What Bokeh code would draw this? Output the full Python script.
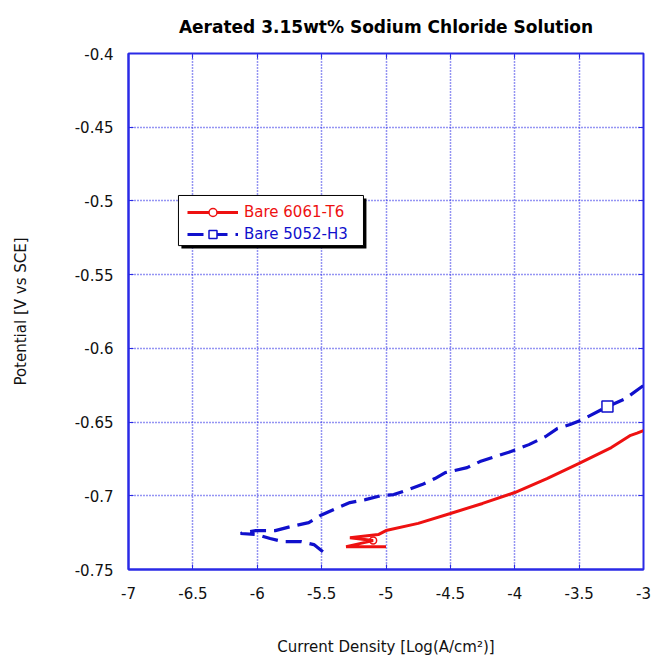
from bokeh.plotting import figure
from bokeh.models import (ColumnDataSource, Legend, LegendItem, BoxAnnotation,
                          FixedTicker, LinearAxis, CustomJSTickFormatter,
                          CDSView, IndexFilter)
from bokeh.embed import file_html
from bokeh.resources import INLINE

# ---------------- data ----------------
title_text = "Aerated 3.15wt% Sodium Chloride Solution"
x_label = "Current Density [Log(A/cm²)]"
y_label = "Potential [V vs SCE]"

x_ticks = [-7, -6.5, -6, -5.5, -5, -4.5, -4, -3.5, -3]
x_tick_labels = ["-7", "-6.5", "-6", "-5.5", "-5", "-4.5", "-4", "-3.5", "-3"]
y_ticks = [-0.75, -0.7, -0.65, -0.6, -0.55, -0.5, -0.45, -0.4]
y_tick_labels = ["-0.75", "-0.7", "-0.65", "-0.6", "-0.55", "-0.5", "-0.45", "-0.4"]

series_names = ["Bare 6061-T6", "Bare 5052-H3"]

al6061_logi = [-5.00, -5.31, -5.10, -5.28, -5.06, -5.00, -4.75, -4.50, -4.25,
               -4.00, -3.75, -3.50, -3.25, -3.10, -3.05, -3.00]
al6061_pot = [-0.7345, -0.7345, -0.7304, -0.7284, -0.7263, -0.7236, -0.7187, -0.7120,
              -0.7052, -0.6978, -0.6883, -0.6780, -0.6673, -0.6590, -0.6575, -0.6558]
al6061_marker_index = [2]

al5052_logi = [-5.49, -5.56, -5.66, -5.80, -5.90, -6.00, -6.13, -6.01, -5.86, -5.74,
               -5.60, -5.51, -5.39, -5.28, -5.16, -5.04, -4.94, -4.85, -4.72, -4.62,
               -4.54, -4.37, -4.27, -4.03, -3.89, -3.76, -3.67, -3.57, -3.49, -3.28,
               -3.14, -3.00]
al5052_pot = [-0.7379, -0.7331, -0.7311, -0.7311, -0.7290, -0.7263, -0.7256, -0.7236,
              -0.7236, -0.7209, -0.7182, -0.7134, -0.7087, -0.7046, -0.7026, -0.6999,
              -0.6992, -0.6965, -0.6924, -0.6883, -0.6843, -0.6809, -0.6768, -0.6700,
              -0.6653, -0.6598, -0.6544, -0.6517, -0.6490, -0.6395, -0.6341, -0.6252]
al5052_marker_index = [29]

# ---------------- styling ----------------
RED = "#ee1111"
BLUE = "#1010cc"
AXIS_BLUE = "#2a2ae6"
FONT = "DejaVu Sans"

p = figure(width=652, height=661, x_range=(-7, -3), y_range=(-0.75, -0.4),
           output_backend="svg", toolbar_location=None,
           min_border_left=128, min_border_right=9, min_border_top=53,
           min_border_bottom=92)

p.title.text = title_text
p.title.align = "center"
p.title.vertical_align = "top"
p.title.text_font = FONT
p.title.text_font_style = "bold"
p.title.text_font_size = "17px"
p.title.text_color = "black"
p.title.standoff = 30

p.outline_line_color = AXIS_BLUE
p.outline_line_width = 2

for ax, ticks, labels in ((p.xaxis[0], x_ticks, x_tick_labels),
                          (p.yaxis[0], y_ticks, y_tick_labels)):
    ax.ticker = FixedTicker(ticks=ticks)
    ax.major_label_overrides = dict(zip(ticks, labels))
    ax.axis_line_color = AXIS_BLUE
    ax.axis_line_width = 2
    ax.major_tick_line_color = AXIS_BLUE
    ax.major_tick_in = 5
    ax.major_tick_out = 0
    ax.minor_tick_line_color = None
    ax.major_label_text_font = FONT
    ax.major_label_text_font_size = "15px"
    ax.major_label_text_color = "#111111"
    ax.axis_label_text_font = FONT
    ax.axis_label_text_font_size = "15px"
    ax.axis_label_text_font_style = "normal"
    ax.axis_label_text_color = "#111111"

p.xaxis[0].axis_label = x_label
p.yaxis[0].axis_label = y_label
p.yaxis[0].major_label_standoff = 15
p.xaxis[0].major_label_standoff = 17
p.yaxis[0].axis_label_standoff = 42
p.xaxis[0].axis_label_standoff = 36

blank = CustomJSTickFormatter(code="return ''")
top_ax = LinearAxis(ticker=FixedTicker(ticks=x_ticks), formatter=blank,
                    axis_line_color=AXIS_BLUE, major_tick_line_color=AXIS_BLUE,
                    major_tick_in=5, major_tick_out=0, minor_tick_line_color=None,
                    major_label_text_font_size="1px")
right_ax = LinearAxis(ticker=FixedTicker(ticks=y_ticks), formatter=blank,
                      axis_line_color=AXIS_BLUE, major_tick_line_color=AXIS_BLUE,
                      major_tick_in=5, major_tick_out=0, minor_tick_line_color=None,
                      major_label_text_font_size="1px")
p.add_layout(top_ax, "above")
p.add_layout(right_ax, "right")

for g, ticks in ((p.xgrid[0], x_ticks), (p.ygrid[0], y_ticks)):
    g.ticker = FixedTicker(ticks=ticks)
    g.grid_line_color = AXIS_BLUE
    g.grid_line_dash = "1 2"
    g.grid_line_width = 1.5

# ---------------- data renderers ----------------
src6061 = ColumnDataSource(dict(x=al6061_logi, y=al6061_pot))
src5052 = ColumnDataSource(dict(x=al5052_logi, y=al5052_pot))

r_red_mk = p.scatter("x", "y", source=src6061,
                     view=CDSView(filter=IndexFilter(indices=al6061_marker_index)),
                     marker="circle", size=7,
                     fill_color="white", line_color=RED, line_width=1.5)
r_red = p.line("x", "y", source=src6061, line_color=RED, line_width=3)
r_blue = p.line("x", "y", source=src5052, line_color=BLUE, line_width=3.2,
                line_dash="16 8")
r_blue_mk = p.scatter("x", "y", source=src5052,
                      view=CDSView(filter=IndexFilter(indices=al5052_marker_index)),
                      marker="square", size=11,
                      fill_color="white", line_color=BLUE, line_width=1.5)

# ---------------- legend ----------------
shadow = BoxAnnotation(left=-6.589, right=-5.152, top=-0.4983, bottom=-0.5323,
                       fill_color="black", fill_alpha=1, line_alpha=0)
frame_box = BoxAnnotation(left=-6.612, right=-5.175, top=-0.4963, bottom=-0.5303,
                          fill_color="white", fill_alpha=1, line_color="black",
                          line_width=1, line_alpha=1)
p.add_layout(shadow)
p.add_layout(frame_box)

for name, rends, color, loc in ((series_names[0], [r_red, r_red_mk], RED, (59, 347)),
                                (series_names[1], [r_blue, r_blue_mk], BLUE, (59, 325))):
    lg = Legend(items=[LegendItem(label=name, renderers=rends)], location=loc,
                padding=0, margin=0, spacing=0, glyph_width=51, glyph_height=20,
                label_height=20, label_standoff=6, label_text_font=FONT,
                label_text_font_size="15px", label_text_color=color,
                border_line_alpha=0, background_fill_alpha=0)
    p.add_layout(lg)

open("out.html", "w").write(file_html(p, INLINE))
